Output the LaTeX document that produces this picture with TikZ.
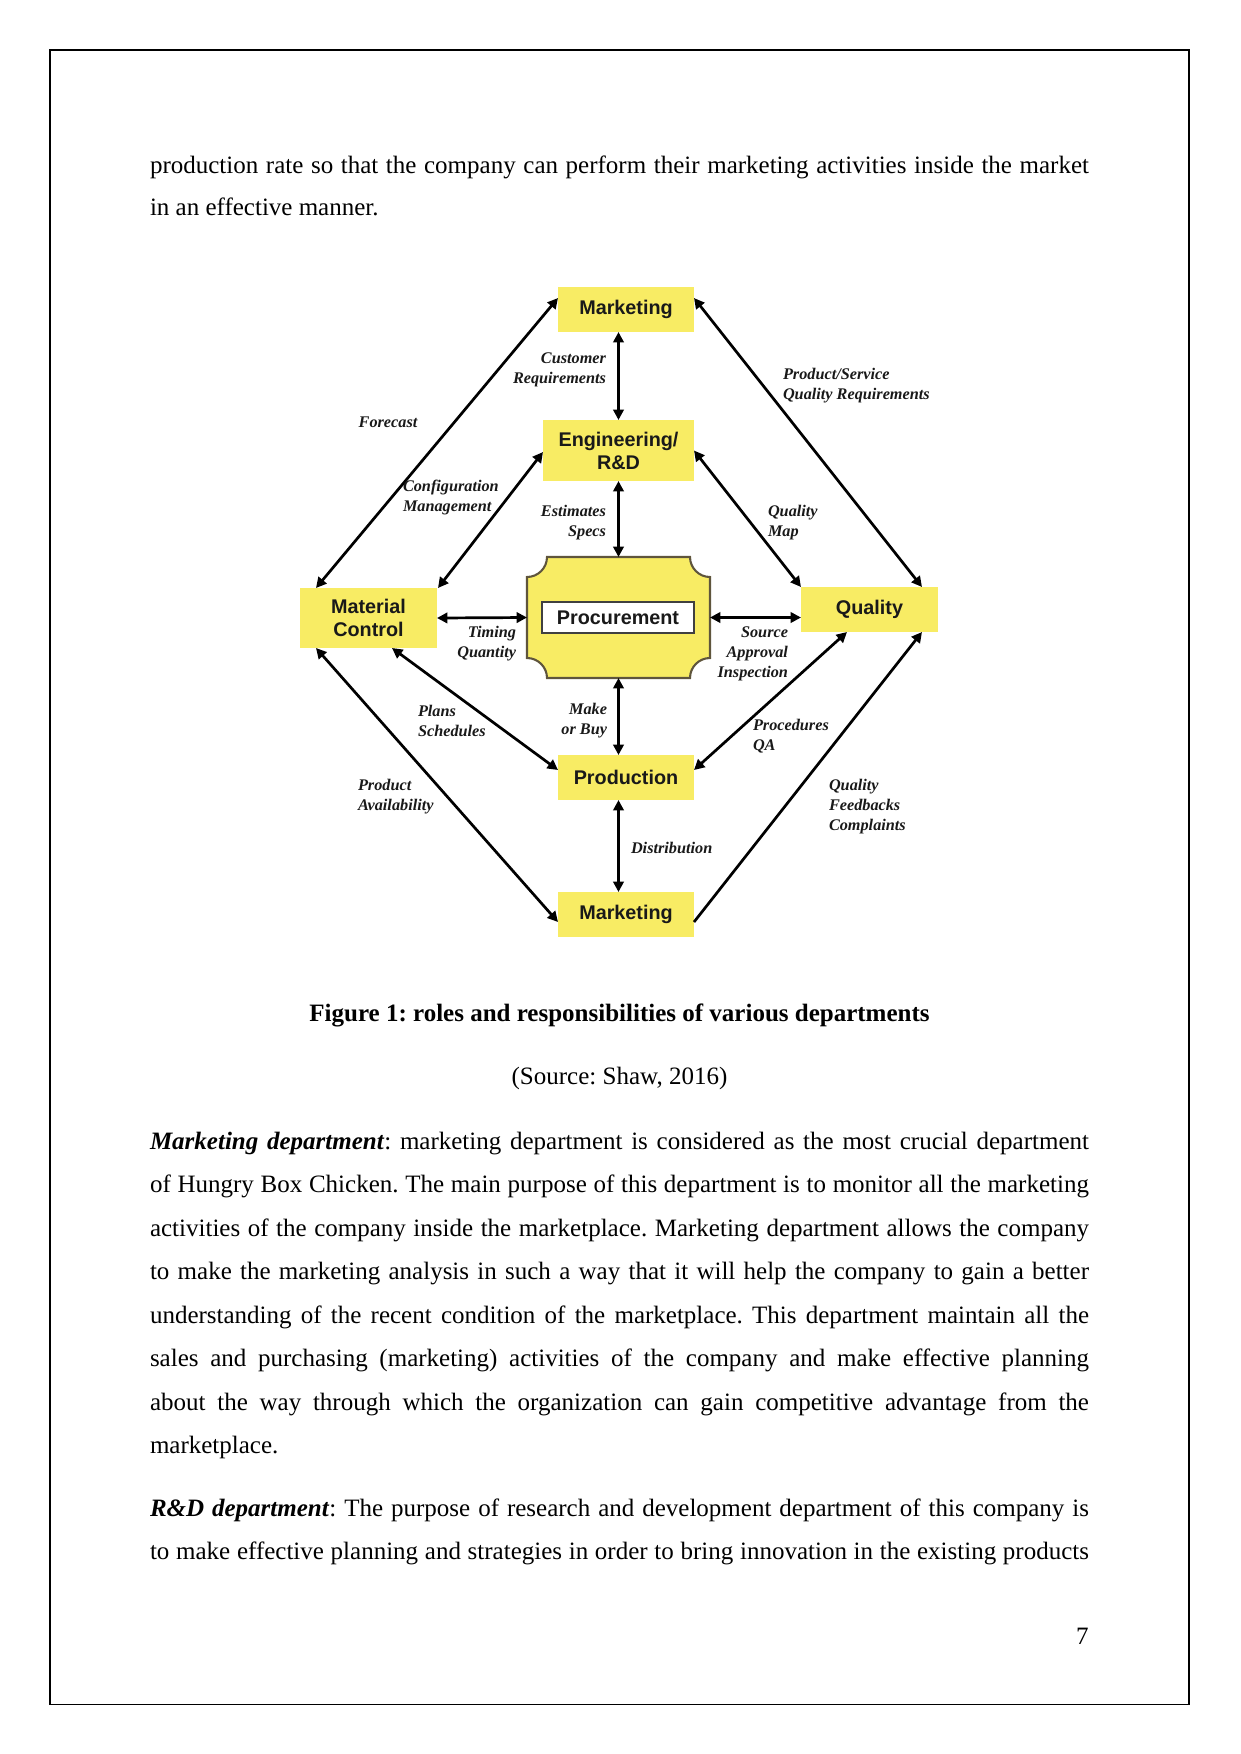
\documentclass[tikz,border=0pt]{standalone}
\usepackage{fontspec}
\setmainfont{Liberation Serif}
\newfontfamily\boxfont{Liberation Sans}
\usetikzlibrary{arrows.meta,calc}
\definecolor{boxyellow}{RGB}{248,236,100}
\definecolor{plaqueedge}{RGB}{95,85,60}
\frenchspacing
\tikzset{
  dept/.style={fill=boxyellow, inner sep=0pt, outer sep=0pt, align=center,
    font=\boxfont\bfseries\fontsize{9.5pt}{11pt}\selectfont, text=black!90},
  lbl/.style={inner sep=0pt, outer sep=0pt,
    font=\bfseries\itshape\fontsize{7.8pt}{9.6pt}\selectfont, text=black!90},
  link/.style={line width=1.3pt, <->},
  onelink/.style={line width=1.3pt, ->},
  bodyline/.style={anchor=base west, inner sep=0pt, outer sep=0pt, font=\fontsize{12pt}{14pt}\selectfont},
  centreline/.style={anchor=base, inner sep=0pt, outer sep=0pt, font=\fontsize{12pt}{14pt}\selectfont},
}
\begin{document}
\begin{tikzpicture}[x=0.48pt, y=-0.48pt, >={Triangle[length=5pt,width=5pt]}]
\useasboundingbox (0,0) rectangle (1241,1754);
\fill[white] (0,0) rectangle (1241,1754);
\draw[line width=0.5pt] (50,50) rectangle (1189,1704);

% ---- text above figure ----
\node[bodyline] (p1) at (150,173) {\makebox[450.7pt][s]{production rate so that the company can perform their marketing activities inside the market}};
\node[bodyline] (p2) at (150,215) {in an effective manner.};

% ---- department boxes ----
\node[dept, minimum width=65.28pt, minimum height=21.6pt] (mktTop) at (626,309.5) {Marketing};
\node[dept, minimum width=72.48pt, minimum height=29.28pt] (eng) at (618.5,450.5) {Engineering/\\R\&D};
\node[dept, minimum width=65.76pt, minimum height=28.8pt] (matc) at (368.5,618) {Material\\Control};
\node[dept, minimum width=65.76pt, minimum height=21.6pt] (qual) at (869.5,609.5) {Quality};
\node[dept, minimum width=65.28pt, minimum height=21.6pt] (prod) at (626,777.5) {Production};
\node[dept, minimum width=65.28pt, minimum height=21.6pt] (mktBot) at (626,914.5) {Marketing};

% ---- procurement plaque ----
\node[inner sep=0pt, outer sep=0pt, minimum width=87.84pt, minimum height=58.08pt] (proc) at (618.5,617.5) {};
\draw[fill=boxyellow, draw=plaqueedge, line width=1pt]
  (547,557) -- (690,557) .. controls (690,568) and (699,577) .. (710,577)
  -- (710,658) .. controls (699,658) and (690,667) .. (690,678)
  -- (547,678) .. controls (547,667) and (538,658) .. (527,658)
  -- (527,577) .. controls (538,577) and (547,568) .. (547,557) -- cycle;
\node[dept, fill=white, draw=black!75, line width=0.8pt, minimum width=72.96pt, minimum height=14.88pt] (procin) at (618,617.5) {Procurement};

% ---- vertical and horizontal links ----
\draw[link] (mktTop.south -| eng.north) -- (eng.north);
\draw[link] (eng.south) -- (proc.north);
\draw[link] (proc.south) -- (proc.south |- prod.north);
\draw[link] (proc.south |- prod.south) -- (proc.south |- mktBot.north);
\draw[link] (matc.east) -- (proc.west);
\draw[link] (proc.east) -- (proc.east -| qual.west);

% ---- diagonal links ----
\draw[link] ($(matc.north west)+(16,0)$) -- ($(mktTop.north west)+(0,11)$);
\draw[link] ($(matc.north east)+(1,0)$) -- ($(eng.west)+(0,1.5)$);
\draw[link] ($(mktTop.north east)+(0,11)$) -- ($(qual.north east)+(-16,0)$);
\draw[link] (eng.east) -- (qual.north west);
\draw[link] ($(qual.south west)+(46,0)$) -- ($(prod.north east)+(0,15)$);
\draw[onelink] ($(mktBot.north east)+(0,30)$) -- ($(qual.south east)+(-16,0)$);
\draw[link] ($(matc.south east)+(-45,0)$) -- ($(prod.north west)+(0,15)$);
\draw[link] ($(matc.south west)+(16,0)$) -- ($(mktBot.north west)+(0,30)$);

% ---- labels ----
\node[lbl, anchor=east, align=right] (lCust) at (606,370) {Customer\\Requirements};
\node[lbl] (lFore) at (388,422) {Forecast};
\node[lbl, anchor=west, align=left] (lConf) at (403,497) {Configuration\\Management};
\node[lbl, anchor=east, align=right] (lEst) at (606,523) {Estimates\\Specs};
\node[lbl, anchor=west, align=left] (lPS) at (783,386) {Product/Service\\Quality Requirements};
\node[lbl, anchor=west, align=left] (lQM) at (768,523) {Quality\\Map};
\node[lbl, anchor=east, align=right] (lTim) at (516,643.5) {Timing\\Quantity};
\node[lbl, anchor=east, align=right] (lSrc) at (788,654) {Source\\Approval\\Inspection};
\node[lbl, anchor=west, align=left] (lPlan) at (418,721) {Plans\\Schedules};
\node[lbl, anchor=east, align=right] (lMake) at (607,721) {Make\\or Buy};
\node[lbl, anchor=west, align=left] (lAvail) at (358,797) {Product\\Availability};
\node[lbl, anchor=west, align=left] (lProc) at (753,736.5) {Procedures\\QA};
\node[lbl, anchor=west, align=left] (lFeed) at (829,806.5) {Quality\\Feedbacks\\Complaints};
\node[lbl, anchor=west, align=left] (lDist) at (631,848) {Distribution};

% ---- caption ----
\node[centreline, font=\bfseries\fontsize{12pt}{14pt}\selectfont] (cap) at (619.5,1021) {Figure 1: roles and responsibilities of various departments};
\node[centreline] (src) at (619.5,1084) {(Source: Shaw, 2016)};

% ---- body paragraphs ----
\node[bodyline] (m1) at (150,1149) {\makebox[450.7pt][s]{\textbf{\textit{Marketing department}}: marketing department is considered as the most crucial department}};
\node[bodyline] (m2) at (150,1192.5) {\makebox[450.7pt][s]{of Hungry Box Chicken. The main purpose of this department is to monitor all the marketing}};
\node[bodyline] (m3) at (150,1236) {\makebox[450.7pt][s]{activities of the company inside the marketplace. Marketing department allows the company}};
\node[bodyline] (m4) at (150,1279.5) {\makebox[450.7pt][s]{to make the marketing analysis in such a way that it will help the company to gain a better}};
\node[bodyline] (m5) at (150,1323) {\makebox[450.7pt][s]{understanding of the recent condition of the marketplace. This department maintain all the}};
\node[bodyline] (m6) at (150,1366.5) {\makebox[450.7pt][s]{sales and purchasing (marketing) activities of the company and make effective planning}};
\node[bodyline] (m7) at (150,1410) {\makebox[450.7pt][s]{about the way through which the organization can gain competitive advantage from the}};
\node[bodyline] (m8) at (150,1453.5) {marketplace.};
\node[bodyline] (r1) at (150,1516) {\makebox[450.7pt][s]{\textbf{\textit{R\&D department}}: The purpose of research and development department of this company is}};
\node[bodyline] (r2) at (150,1559.5) {\makebox[450.7pt][s]{to make effective planning and strategies in order to bring innovation in the existing products}};

% ---- page number ----
\node[anchor=base east, inner sep=0pt, font=\fontsize{12pt}{14pt}\selectfont] (pg) at (1089,1644) {7};
\end{tikzpicture}
\end{document}
